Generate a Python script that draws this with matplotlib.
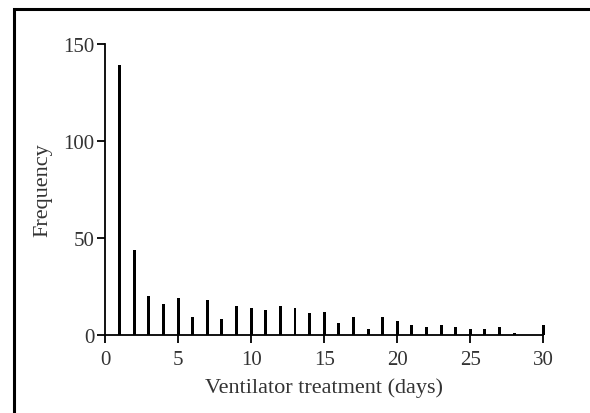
import matplotlib
matplotlib.use("Agg")
import matplotlib.pyplot as plt
from matplotlib.patches import Rectangle

# Days on ventilator and number of patients
days = list(range(1, 31))
frequency = [139, 44, 20, 16, 19, 9, 18, 8, 15, 14,
             13, 15, 14, 11, 12, 6, 9, 3, 9, 7,
             5, 4, 5, 4, 3, 3, 4, 1, 0, 5]

x_ticks = [0, 5, 10, 15, 20, 25, 30]
y_ticks = [0, 50, 100, 150]

plt.rcParams["font.family"] = ["Liberation Serif", "DejaVu Serif"]

fig = plt.figure(figsize=(5.9, 4.14), dpi=100)
ax = fig.add_axes([0.178, 0.189, 0.743, 0.702])

ax.bar(days, frequency, width=0.2, color="black", clip_on=False)

ax.set_xlim(0, 30)
ax.set_ylim(0, 150)
ax.set_xticks(x_ticks)
ax.set_yticks(y_ticks)

for side in ("top", "right"):
    ax.spines[side].set_visible(False)
for side in ("left", "bottom"):
    ax.spines[side].set_linewidth(1.3)

ax.tick_params(axis="both", direction="out", length=6, width=1.3, pad=1.5,
               labelsize=15, colors="black", labelcolor="#333333")
ax.tick_params(axis="x", pad=5)
ax.set_xlabel("Ventilator treatment (days)", fontsize=16, color="#333333", labelpad=6)
ax.set_ylabel("Frequency", fontsize=16, color="#333333", labelpad=8)

# frame around the whole figure (runs off the right and bottom edge)
fig.patches.append(Rectangle((14 / 590, -0.05), 1.1, 1 - 10 / 414 + 0.05,
                             transform=fig.transFigure, fill=False,
                             edgecolor="black", linewidth=2.2))

fig.savefig("out.png", dpi=100)
